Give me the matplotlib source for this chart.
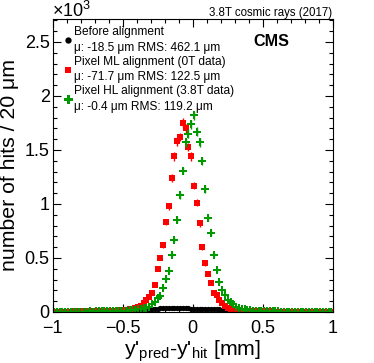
import numpy as np
import matplotlib
matplotlib.use("Agg")
import matplotlib.pyplot as plt
from matplotlib.ticker import MultipleLocator

plt.rcParams['font.family'] = ['Liberation Sans', 'DejaVu Sans']
plt.rcParams['mathtext.fontset'] = 'custom'
plt.rcParams['mathtext.rm'] = 'Liberation Sans'
plt.rcParams['mathtext.it'] = 'Liberation Sans:italic'
plt.rcParams['mathtext.bf'] = 'Liberation Sans:bold'

# bin centres: 100 bins of 20 um from -1 to 1 mm
bin_edges = np.linspace(-1.0, 1.0, 101)
bin_centers = 0.5 * (bin_edges[:-1] + bin_edges[1:])

# counts in units of 10^3
before = [0.005, 0.005, 0.006, 0.005, 0.006, 0.006, 0.006, 0.007, 0.006, 0.007,
          0.007, 0.007, 0.008, 0.007, 0.008, 0.008, 0.009, 0.010, 0.011, 0.012,
          0.014, 0.016, 0.018, 0.020, 0.021, 0.022, 0.024, 0.025, 0.026, 0.027,
          0.028, 0.029, 0.029, 0.030, 0.031, 0.031, 0.032, 0.032, 0.033, 0.033,
          0.034, 0.034, 0.035, 0.034, 0.034, 0.035, 0.034, 0.033, 0.033, 0.032,
          0.032, 0.031, 0.031, 0.030, 0.030, 0.029, 0.028, 0.027, 0.026, 0.025,
          0.022, 0.018, 0.015, 0.012, 0.010, 0.009, 0.008, 0.008, 0.007, 0.007,
          0.007, 0.006, 0.007, 0.006, 0.006, 0.006, 0.006, 0.005, 0.006, 0.005,
          0.005, 0.005, 0.005, 0.005, 0.005, 0.004, 0.005, 0.004, 0.005, 0.004,
          0.004, 0.004, 0.004, 0.004, 0.004, 0.004, 0.003, 0.004, 0.003, 0.003]

pixel_ml = [0.003, 0.003, 0.004, 0.003, 0.004, 0.004, 0.004, 0.005, 0.004, 0.005,
            0.005, 0.005, 0.006, 0.006, 0.006, 0.007, 0.007, 0.008, 0.008, 0.009,
            0.010, 0.011, 0.012, 0.014, 0.016, 0.018, 0.021, 0.025, 0.030, 0.037,
            0.045, 0.055, 0.080, 0.110, 0.140, 0.180, 0.250, 0.400, 0.500, 0.620,
            0.830, 0.980, 1.240, 1.440, 1.580, 1.620, 1.750, 1.700, 1.530, 1.440,
            1.170, 1.010, 0.820, 0.600, 0.450, 0.350, 0.270, 0.180, 0.155, 0.110,
            0.080, 0.055, 0.040, 0.030, 0.022, 0.017, 0.013, 0.011, 0.009, 0.008,
            0.007, 0.007, 0.006, 0.006, 0.006, 0.005, 0.005, 0.005, 0.005, 0.004,
            0.004, 0.004, 0.004, 0.004, 0.004, 0.004, 0.003, 0.003, 0.003, 0.003,
            0.003, 0.003, 0.003, 0.003, 0.003, 0.003, 0.003, 0.003, 0.003, 0.003]

pixel_hl = [0.003, 0.003, 0.003, 0.003, 0.003, 0.004, 0.003, 0.004, 0.004, 0.004,
            0.004, 0.004, 0.004, 0.005, 0.004, 0.005, 0.005, 0.005, 0.005, 0.006,
            0.006, 0.007, 0.008, 0.009, 0.010, 0.011, 0.013, 0.015, 0.018, 0.020,
            0.024, 0.028, 0.033, 0.040, 0.050, 0.074, 0.095, 0.127, 0.150, 0.225,
            0.310, 0.380, 0.530, 0.670, 0.850, 1.080, 1.310, 1.570, 1.650, 1.740,
            1.820, 1.670, 1.570, 1.400, 1.140, 0.870, 0.730, 0.530, 0.390, 0.280,
            0.200, 0.160, 0.110, 0.090, 0.070, 0.050, 0.040, 0.030, 0.024, 0.019,
            0.015, 0.012, 0.010, 0.009, 0.008, 0.007, 0.006, 0.006, 0.005, 0.005,
            0.005, 0.004, 0.004, 0.004, 0.004, 0.004, 0.003, 0.003, 0.003, 0.003,
            0.003, 0.003, 0.003, 0.003, 0.003, 0.003, 0.003, 0.003, 0.003, 0.003]

labels = ["Before alignment\n\u03bc: -18.5 \u03bcm RMS: 462.1 \u03bcm",
          "Pixel ML alignment (0T data)\n\u03bc: -71.7 \u03bcm RMS: 122.5 \u03bcm",
          "Pixel HL alignment (3.8T data)\n\u03bc: -0.4 \u03bcm RMS: 119.2 \u03bcm"]

fig = plt.figure(figsize=(3.74, 3.63), dpi=100)
ax = fig.add_axes([0.1404, 0.1405, 0.890 - 0.1404, 0.9477 - 0.1405])

series = [(before, 'black', 'o', 3.8),
          (pixel_ml, '#ff0000', 's', 3.9),
          (pixel_hl, '#009900', 'P', 5.4)]
handles = []
for vals, col, mk, ms in series:
    v = np.array(vals)
    err = np.sqrt(v * 1000.0) / 1000.0
    ax.errorbar(bin_centers, v, yerr=err, fmt='none', ecolor=col, elinewidth=1.0, capsize=0)
    h, = ax.plot(bin_centers, v, linestyle='none', marker=mk, color=col,
                 markersize=ms, markeredgewidth=0)
    handles.append(h)

ax.set_xlim(-1, 1)
ax.set_ylim(0, 2.713)
ax.xaxis.set_minor_locator(MultipleLocator(0.1))
ax.yaxis.set_minor_locator(MultipleLocator(0.1))
ax.set_xticks([-1, -0.5, 0, 0.5, 1])
ax.set_xticklabels(['\u22121', '\u22120.5', '0', '0.5', '1'])
ax.set_yticks([0, 0.5, 1, 1.5, 2, 2.5])
ax.set_yticklabels(['0', '0.5', '1', '1.5', '2', '2.5'])
ax.tick_params(which='both', direction='in', top=True, right=True, width=0.8, labelsize=13)
ax.tick_params(which='major', length=6)
ax.tick_params(which='minor', length=3)
ax.tick_params(axis='x', pad=6)
ax.tick_params(axis='y', pad=2)
for s in ax.spines.values():
    s.set_linewidth(0.8)

ax.set_ylabel('number of hits / 20 \u03bcm', fontsize=15.3, labelpad=4)
ax.set_xlabel(r"y'$_{\rm pred}$-y'$_{\rm hit}$ [mm]", fontsize=15.3, labelpad=0.5)

leg = ax.legend(handles, labels, loc='upper left', bbox_to_anchor=(0.02, 0.995),
                frameon=False, fontsize=8.6, handlelength=0.7, handletextpad=0.15,
                labelspacing=0.16, borderaxespad=0.3, borderpad=0.2, markerscale=1.2)
for t in leg.get_texts():
    t.set_linespacing(1.38)

fig.text(0.139, 0.952, r'$\times10^{3}$', fontsize=13, ha='left', va='baseline')
fig.text(0.888, 0.955, '3.8T cosmic rays (2017)', fontsize=8.3, ha='right', va='baseline')
ax.text(0.715, 0.948, 'CMS', transform=ax.transAxes, fontsize=11.6, fontweight='bold',
        ha='left', va='top')

fig.savefig('out.png', dpi=100)
